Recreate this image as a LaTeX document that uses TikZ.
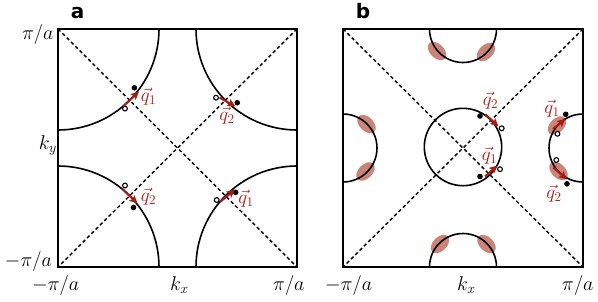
\RequirePackage{fix-cm}
\documentclass[tikz,border=0pt]{standalone}
\usepackage{fontspec}
\newfontfamily\panelfont{DejaVu Sans}
\usetikzlibrary{arrows.meta}
\definecolor{qred}{RGB}{165,28,18}
\definecolor{blob}{RGB}{202,132,122}
\tikzset{
 boxline/.style={line width=1.9pt},
 fsline/.style={line width=1.6pt},
 diag/.style={line width=1.4pt, dash pattern=on 3.5pt off 2.6pt},
 qarrow/.style={qred, line width=2.1pt, -{Stealth[length=8pt,width=7.5pt,inset=1.5pt]}},
 fdot/.style={fill=black},
 odot/.style={draw=black, fill=white, line width=1.1pt},
 axlab/.style={inner sep=0pt, font=\fontsize{20}{24}\selectfont},
 qlab/.style={inner sep=0pt, text=qred, font=\fontsize{19}{22}\selectfont},
 panlab/.style={inner sep=0pt, font=\panelfont\bfseries\fontsize{20}{24}\selectfont},
}
\begin{document}
\begin{tikzpicture}[x=1pt,y=-1pt]
\useasboundingbox (0,0) rectangle (598,301);

% ---------- panel a ----------
\coordinate (aTL) at (58,29);
\coordinate (aTR) at (297,29);
\coordinate (aBL) at (58,267);
\coordinate (aBR) at (297,267);
\draw[diag] (aTL) -- (aBR);
\draw[diag] (aTR) -- (aBL);
\begin{scope}
 \clip (aTL) rectangle (aBR);
 \draw[fsline] (aTL) circle (101);
 \draw[fsline] (aTR) circle (101);
 \draw[fsline] (aBL) circle (101);
 \draw[fsline] (aBR) circle (101);
\end{scope}
\draw[boxline] (aTL) rectangle (aBR);

% dots and arrows, panel a
\fill[fdot] (134.4,87.8) circle (2.8);
\draw[odot] (125,108.6) circle (2.4);
\coordinate (a1s) at (123,106.5); \coordinate (a1e) at (139,91.5);
\draw[qarrow] (a1s) -- (a1e);
\node[qlab] (qa1) at (148.5,97) {$\vec{q}_1$};

\draw[odot] (216,97.7) circle (2.4);
\fill[fdot] (237.3,102.7) circle (2.8);
\coordinate (a2s) at (219.5,97.5); \coordinate (a2e) at (235.5,106.5);
\draw[qarrow] (a2s) -- (a2e);
\node[qlab] (qa2) at (227,116) {$\vec{q}_2$};

\draw[odot] (125,185.5) circle (2.4);
\fill[fdot] (133.5,207.5) circle (2.8);
\coordinate (a3s) at (122.5,189); \coordinate (a3e) at (137.5,203.5);
\draw[qarrow] (a3s) -- (a3e);
\node[qlab] (qa3) at (148.5,197) {$\vec{q}_2$};

\draw[odot] (216.7,200) circle (2.4);
\fill[fdot] (235.7,192.3) circle (2.8);
\coordinate (a4s) at (220,202); \coordinate (a4e) at (235,189.5);
\draw[qarrow] (a4s) -- (a4e);
\node[qlab] (qa4) at (246,198.5) {$\vec{q}_1$};

% labels panel a
\node[panlab, anchor=base] (la) at (77.5,18.3) {a};
\node[axlab, anchor=base east] (ya1) at (53.5,39.3) {$\pi/a$};
\node[axlab, anchor=base east] (ya2) at (57,149) {$k_y$};
\node[axlab, anchor=base east] (ya3) at (52,266.5) {$-\pi/a$};
\node[axlab, anchor=base west] (xa1) at (32,290) {$-\pi/a$};
\node[axlab, anchor=base west] (xa2) at (170,290) {$k_x$};
\node[axlab, anchor=base west] (xa3) at (273,290) {$\pi/a$};

% ---------- panel b ----------
\coordinate (bTL) at (343,29);
\coordinate (bTR) at (583,29);
\coordinate (bBL) at (343,267);
\coordinate (bBR) at (583,267);

\foreach \p/\r in {{(437,51)}/-45,{(486,52)}/45,{(440,244)}/45,{(486.5,244)}/-45,
                  {(366.5,124)}/-45,{(365.5,171.5)}/45,{(557,125.5)}/45,{(558.5,171)}/-45}
 {\fill[blob, rotate around={\r:\p}] \p ellipse (11 and 7);}

\draw[diag] (bTL) -- (bBR);
\draw[diag] (bTR) -- (bBL);
\begin{scope}
 \clip (bTL) rectangle (bBR);
 \draw[fsline] (463,29) circle (33.5);
 \draw[fsline] (463,267) circle (33.5);
 \draw[fsline] (343,148) circle (34);
 \draw[fsline] (583,148) circle (34);
 \draw[fsline] (463,147) circle (38.7);
\end{scope}
\draw[boxline] (bTL) rectangle (bBR);

% dots and arrows, panel b
\fill[fdot] (480,116) circle (2.8);
\draw[odot] (501.7,128.3) circle (2.4);
\coordinate (b1s) at (485.5,114.5); \coordinate (b1e) at (498.5,126.5);
\draw[qarrow] (b1s) -- (b1e);
\node[qlab] (qb1) at (490.5,101) {$\vec{q}_2$};

\fill[fdot] (480,176.5) circle (2.8);
\draw[odot] (500,169.2) circle (2.4);
\coordinate (b2s) at (485,176.5); \coordinate (b2e) at (497.5,165.5);
\draw[qarrow] (b2s) -- (b2e);
\node[qlab] (qb2) at (489.5,156) {$\vec{q}_1$};

\fill[fdot] (565.7,114.3) circle (2.8);
\draw[odot] (557.5,133.8) circle (2.4);
\coordinate (b3s) at (553,129); \coordinate (b3e) at (565.5,119);
\draw[qarrow] (b3s) -- (b3e);
\node[qlab] (qb3) at (552,109) {$\vec{q}_1$};

\draw[odot] (556.3,160) circle (2.4);
\fill[fdot] (567,183.8) circle (2.8);
\coordinate (b4s) at (553.3,167.5); \coordinate (b4e) at (567,179.5);
\draw[qarrow] (b4s) -- (b4e);
\node[qlab] (qb4) at (554,193.5) {$\vec{q}_2$};

% labels panel b
\node[panlab, anchor=base] (lb) at (363,18.3) {b};
\node[axlab, anchor=base west] (xb1) at (325,290) {$-\pi/a$};
\node[axlab, anchor=base west] (xb2) at (457,290) {$k_x$};
\node[axlab, anchor=base west] (xb3) at (562,290) {$\pi/a$};
\end{tikzpicture}
\end{document}
